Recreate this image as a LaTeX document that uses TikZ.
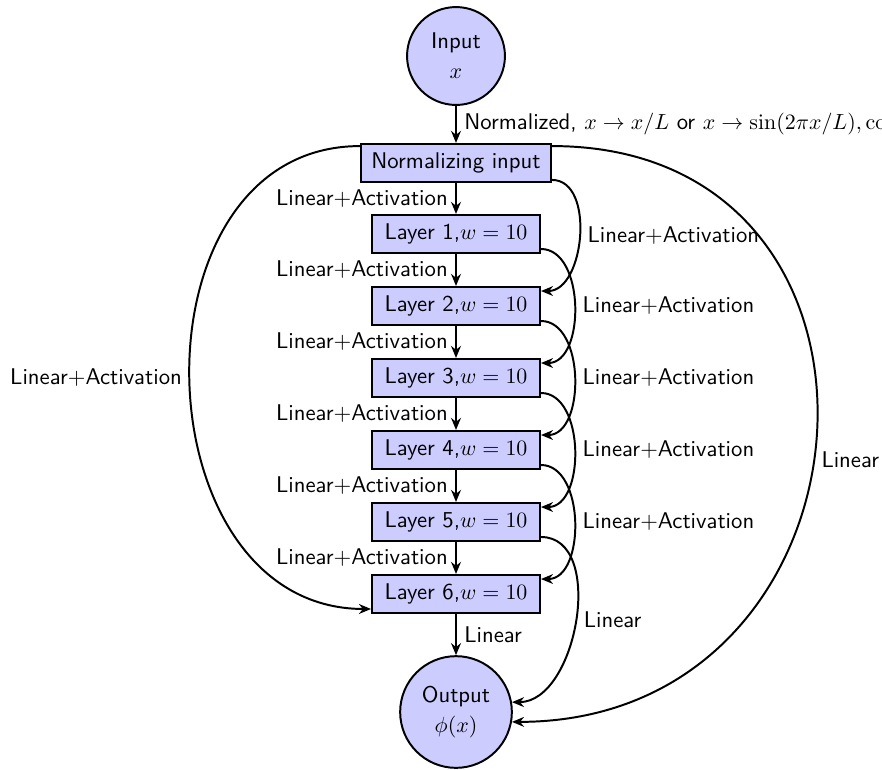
\documentclass[tikz,border=0pt]{standalone}
\usetikzlibrary{arrows.meta}
\begin{document}
\begin{tikzpicture}[x=0.4566pt,y=-0.4566pt,
  every node/.style={font=\sffamily\fontsize{10.37}{12.6}\selectfont},
  layerbox/.style={draw,line width=0.9pt,fill=blue!20,rectangle,inner xsep=2pt,inner ysep=0pt,minimum height=17.4pt},
  roundnode/.style={draw,line width=0.9pt,fill=blue!20,circle,align=center,inner sep=0pt},
  conn/.style={line width=0.9pt,-{Stealth[length=5.5pt,width=4.5pt]}}]
\useasboundingbox (0,0) rectangle (882,769);
\clip (0,0) rectangle (882,769);
\node[roundnode,minimum size=44.7pt] (in) at (456,56) {Input\\[1pt]$x$};
\node[layerbox,minimum width=86.8pt] (norm) at (456,163) {Normalizing input};
\node[layerbox,minimum width=76.7pt] (L1) at (456,234) {Layer 1,$w=10$};
\node[layerbox,minimum width=76.7pt] (L2) at (456,306) {Layer 2,$w=10$};
\node[layerbox,minimum width=76.7pt] (L3) at (456,378) {Layer 3,$w=10$};
\node[layerbox,minimum width=76.7pt] (L4) at (456,450) {Layer 4,$w=10$};
\node[layerbox,minimum width=76.7pt] (L5) at (456,522) {Layer 5,$w=10$};
\node[layerbox,minimum width=76.7pt] (L6) at (456,594) {Layer 6,$w=10$};
\node[roundnode,minimum size=51pt] (out) at (456,712) {Output\\[1pt]$\phi(x)$};

\draw[conn] (in) -- node[right]{Normalized, $x\to x/L$ or $x\to\sin(2\pi x/L),\cos(2\pi x/L)$} (norm);
\draw[conn] (norm) -- node[left]{Linear+Activation} (L1);
\draw[conn] (L1) -- node[left]{Linear+Activation} (L2);
\draw[conn] (L2) -- node[left]{Linear+Activation} (L3);
\draw[conn] (L3) -- node[left]{Linear+Activation} (L4);
\draw[conn] (L4) -- node[left]{Linear+Activation} (L5);
\draw[conn] (L5) -- node[left]{Linear+Activation} (L6);
\draw[conn] (L6) -- node[right]{Linear} (out);

\draw[conn] (norm.-10) to[out=0,in=0] node[right]{Linear+Activation} (L2.10);
\draw[conn] (L1.-10) to[out=0,in=0] node[right]{Linear+Activation} (L3.10);
\draw[conn] (L2.-10) to[out=0,in=0] node[right]{Linear+Activation} (L4.10);
\draw[conn] (L3.-10) to[out=0,in=0] node[right]{Linear+Activation} (L5.10);
\draw[conn] (L4.-10) to[out=0,in=0] node[right]{Linear+Activation} (L6.10);
\draw[conn] (L5.-10) to[out=0,in=0] node[right]{Linear} (out.10);

\draw[conn] (norm.170) to[out=180,in=180,looseness=1.29] node[left]{Linear+Activation} (L6.190);
\draw[conn] (norm.10) to[out=0,in=0,looseness=1.68] node[right,pos=0.53]{Linear} (out.-10);
\end{tikzpicture}
\end{document}
